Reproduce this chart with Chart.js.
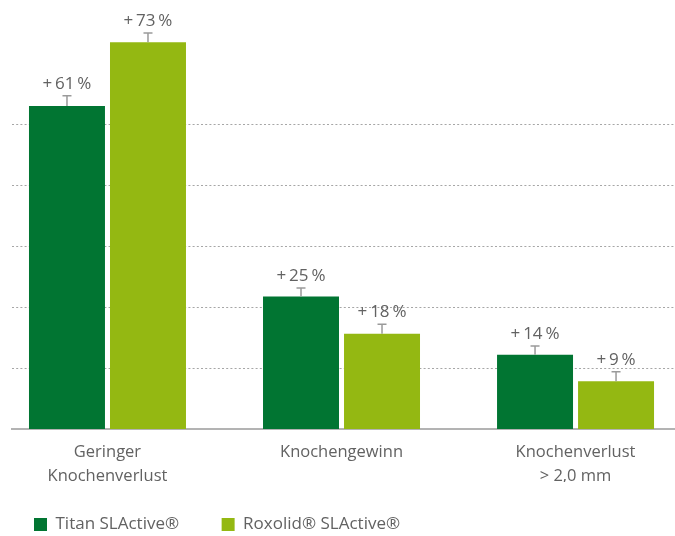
<!DOCTYPE html>
<html>
<head>
<meta charset="utf-8">
<script src="https://cdn.jsdelivr.net/npm/chart.js@4/dist/chart.umd.min.js"></script>
<style>
  html, body { margin: 0; padding: 0; background: #ffffff; }
  #wrap { width: 675px; height: 536px; }
</style>
</head>
<body>
<div id="wrap"><canvas id="c" width="675" height="536"></canvas></div>
<script>
// ---- data ----
const categories = [["Geringer", "Knochenverlust"], "Knochengewinn", ["Knochenverlust", "> 2,0 mm"]];
const seriesNames = ["Titan SLActive®", "Roxolid® SLActive®"];
const titanValues = [61, 25, 14];
const roxolidValues = [73, 18, 9];
const titanErrors = [1.9, 1.6, 1.65];
const roxolidErrors = [1.75, 1.8, 1.8];
const gridValues = [11.5, 23, 34.5, 46, 57.5];

const darkGreen = "#017532";
const lightGreen = "#94b812";
const textGray = "#626262";

Chart.defaults.font.family = "'Open Sans', 'Noto Sans', sans-serif";
Chart.defaults.color = textGray;

function toPoints(vals) { return vals.map((v, i) => ({ x: i, y: v })); }
function label(v) { return "+\u2009" + v + "\u2009%"; }

const errorBarPlugin = {
  id: "errorBars",
  afterDatasetsDraw(chart) {
    const ctx = chart.ctx;
    const yScale = chart.scales.y;
    chart.data.datasets.forEach((ds, di) => {
      const meta = chart.getDatasetMeta(di);
      meta.data.forEach((bar, i) => {
        const v = ds.data[i].y;
        const e = ds.errors[i];
        const yTop = yScale.getPixelForValue(v + e);
        ctx.save();
        ctx.strokeStyle = "#9a9a9a";
        ctx.lineWidth = 1.5;
        ctx.beginPath();
        ctx.moveTo(bar.x, bar.y);
        ctx.lineTo(bar.x, yTop);
        ctx.moveTo(bar.x - 4.5, yTop);
        ctx.lineTo(bar.x + 4.5, yTop);
        ctx.stroke();
        ctx.fillStyle = textGray;
        ctx.font = "17px 'Open Sans', 'Noto Sans', sans-serif";
        ctx.textAlign = "center";
        ctx.textBaseline = "alphabetic";
        ctx.fillText(label(v), bar.x, yTop - 7);
        ctx.restore();
      });
    });
  }
};

new Chart(document.getElementById("c"), {
  type: "bar",
  data: {
    datasets: [
      { label: seriesNames[0] + "\u2002", data: toPoints(titanValues), errors: titanErrors,
        backgroundColor: darkGreen, borderWidth: 0 },
      { label: seriesNames[1], data: toPoints(roxolidValues), errors: roxolidErrors,
        backgroundColor: lightGreen, borderWidth: 0 }
    ]
  },
  options: {
    responsive: false,
    animation: false,
    datasets: { bar: { categoryPercentage: 0.6923, barPercentage: 0.938 } },
    layout: { padding: { left: 0, right: 0, top: 0, bottom: -7 } },
    plugins: {
      tooltip: { enabled: false },
      legend: {
        position: "bottom",
        align: "start",
        labels: {
          boxWidth: 13, boxHeight: 13, padding: 34,
          color: textGray,
          font: { size: 17 }
        }
      }
    },
    scales: {
      x: {
        type: "linear",
        offset: false,
        bounds: "ticks",
        min: -0.408, max: 2.425,
        afterBuildTicks: (s) => { s.ticks = categories.map((c, i) => ({ value: i })); },
        afterFit: (s) => { s.height = 53; },
        grid: { display: false, drawTicks: false, offset: false },
        border: { display: true, color: "#b3b3b3", width: 2 },
        ticks: {
          padding: 11.5,
          maxRotation: 0, autoSkip: false,
          color: textGray,
          font: { size: 16.5, lineHeight: 1.45 },
          callback: (v) => categories[v]
        }
      },
      y: {
        min: 0, max: 81,
        afterBuildTicks: (s) => { s.ticks = gridValues.map(v => ({ value: v })); },
        afterFit: (s) => { s.width = 12; },
        grid: { color: "#a6a6a6", lineWidth: 1, drawTicks: false },
        border: { display: false, dash: [2, 2.2] },
        ticks: { display: false }
      }
    }
  },
  plugins: [errorBarPlugin]
});
</script>
</body>
</html>
